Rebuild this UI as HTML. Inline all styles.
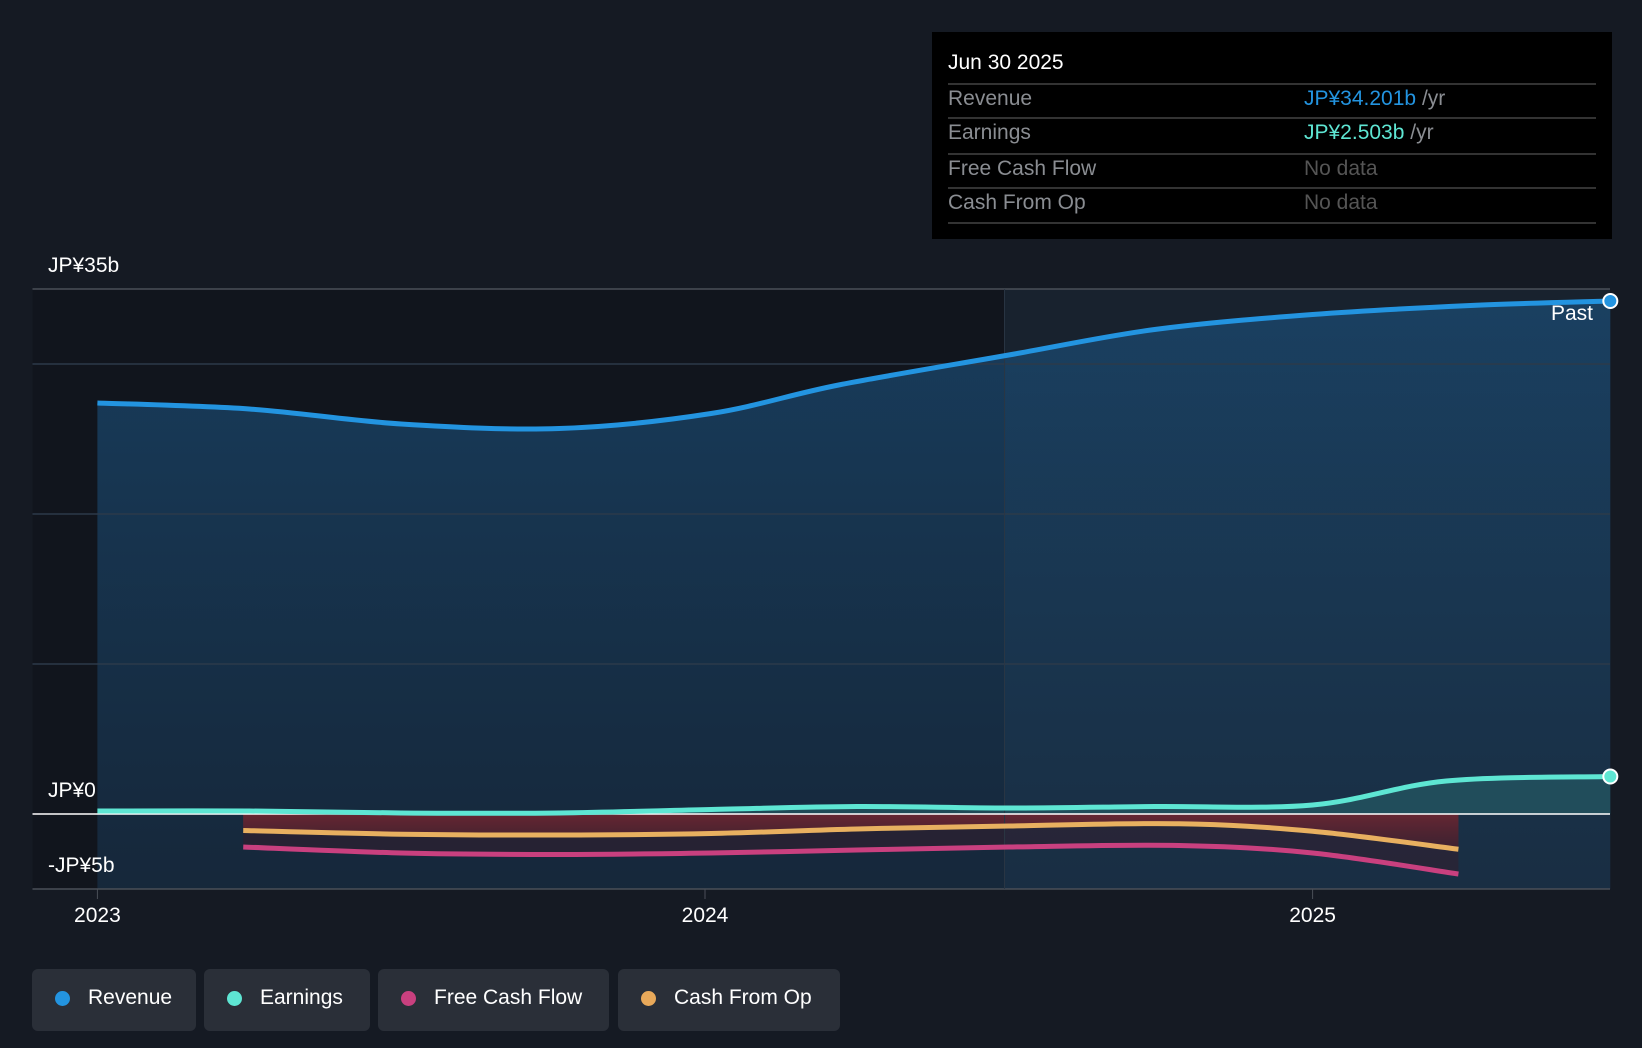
<!DOCTYPE html>
<html><head><meta charset="utf-8"><style>
body{margin:0;width:1642px;height:1048px;background:#151a23;font-family:"Liberation Sans",sans-serif;overflow:hidden;position:relative}
.tt{position:absolute;left:932px;top:32px;width:680px;height:207px;background:#000}
.tt div{position:absolute;left:16px;right:16px;font-size:21px}
.leg{position:absolute;top:969px;height:62px;background:#2a2f38;border-radius:6px;color:#fff;font-size:21px;line-height:58px;box-sizing:border-box;padding-left:56px}
.leg i{position:absolute;left:23px;top:22px;width:15px;height:15px;border-radius:50%}
</style></head><body>
<svg id="chart" width="1642" height="1048" style="position:absolute;left:0;top:0"></svg>
<div class="tt">
<div style="top:19px;color:#fff">Jun 30 2025</div>
<div style="top:51px;height:0;border-top:2px solid #333"></div>
<div style="top:55px;color:#8a8d92">Revenue<span style="position:absolute;left:356px;white-space:nowrap"><span style="color:#2394e0">JP¥34.201b</span> /yr</span></div>
<div style="top:85px;height:0;border-top:2px solid #333"></div>
<div style="top:89px;color:#8a8d92">Earnings<span style="position:absolute;left:356px;white-space:nowrap"><span style="color:#5ee6d3">JP¥2.503b</span> /yr</span></div>
<div style="top:121px;height:0;border-top:2px solid #333"></div>
<div style="top:125px;color:#8a8d92">Free Cash Flow<span style="position:absolute;left:356px;color:#555">No data</span></div>
<div style="top:155px;height:0;border-top:2px solid #333"></div>
<div style="top:159px;color:#8a8d92">Cash From Op<span style="position:absolute;left:356px;color:#555">No data</span></div>
<div style="top:190px;height:0;border-top:2px solid #333"></div>
</div>
<div class="leg" style="left:32px;width:164px"><i style="background:#2394e0"></i>Revenue</div>
<div class="leg" style="left:204px;width:166px"><i style="background:#5ee6d3"></i>Earnings</div>
<div class="leg" style="left:378px;width:231px"><i style="background:#c9407f"></i>Free Cash Flow</div>
<div class="leg" style="left:618px;width:222px"><i style="background:#e8a95a"></i>Cash From Op</div>
<script>
const revT=[2023.0,2023.25,2023.5,2023.76,2024.01,2024.22,2024.5,2024.74,2025.0,2025.26,2025.49];
const revV=[27.4,27.0,26.0,25.7,26.7,28.6,30.6,32.3,33.3,33.9,34.2];
const earnT=[2023.0,2023.25,2023.5,2023.76,2024.01,2024.25,2024.5,2024.74,2025.0,2025.22,2025.49];
const earnV=[0.2,0.2,0.07,0.07,0.3,0.5,0.4,0.5,0.6,2.2,2.5];
const cfT=[2023.24,2023.5,2023.76,2024.01,2024.25,2024.5,2024.78,2025.0,2025.24];
const fcfV=[-2.2,-2.6,-2.7,-2.6,-2.4,-2.2,-2.1,-2.6,-4.0];
const cfoV=[-1.1,-1.35,-1.4,-1.3,-1.0,-0.8,-0.65,-1.15,-2.35];
const yTicks=[35,0,-5];const yTickLabels=["JP¥35b","JP¥0","-JP¥5b"];
const grid=[35,30,20,10,-5];
const xTicks=[2023,2024,2025];
const X=t=>97.4+(t-2023)*607.6;
const Y=v=>814-v*15.0;
const L=32.5,R=1610;
const svg=document.getElementById('chart');const NS='http://www.w3.org/2000/svg';
function mk(tag,a,name){const e=document.createElementNS(NS,tag);for(const k in a)e.setAttribute(k,a[k]);


svg.appendChild(e);return e;}
function curve(ts,vs){const p=ts.map((t,i)=>[X(t),Y(vs[i])]);let d='M'+p[0][0]+','+p[0][1];
for(let i=0;i<p.length-1;i++){const p0=p[i-1]||p[i],p1=p[i],p2=p[i+1],p3=p[i+2]||p2;
d+=` C${p1[0]+(p2[0]-p0[0])/6},${p1[1]+(p2[1]-p0[1])/6} ${p2[0]-(p3[0]-p1[0])/6},${p2[1]-(p3[1]-p1[1])/6} ${p2[0]},${p2[1]}`;}return d;}
const defs=mk('defs',{},'defs');
defs.innerHTML='<linearGradient id="rg" x1="0" y1="0" x2="0" y2="1"><stop offset="0" stop-color="#1a4a72" stop-opacity="0.75"/><stop offset="1" stop-color="#1a3a58" stop-opacity="0.5"/></linearGradient><linearGradient id="cg" x1="0" y1="0" x2="0" y2="1"><stop offset="0" stop-color="#a8323a" stop-opacity="0.8"/><stop offset="1" stop-color="#5a2430" stop-opacity="0.6"/></linearGradient>';
const div=X(2024.493);
mk('rect',{x:L,y:Y(35),width:div-L,height:Y(-5)-Y(35),fill:'#11151d'},'past-shade');
mk('rect',{x:div,y:Y(35),width:R-div,height:Y(-5)-Y(35),fill:'#18222e'},'recent-shade');
const rc=curve(revT,revV);
mk('path',{d:rc+` L${X(revT[revT.length-1])},${Y(-5)} L${X(revT[0])},${Y(-5)} Z`,fill:'url(#rg)'},'revenue-area');
const ec=curve(earnT,earnV);
mk('path',{d:ec+` L${X(earnT[earnT.length-1])},${Y(0)} L${X(earnT[0])},${Y(0)} Z`,fill:'#2a6a70',opacity:0.5},'earnings-area');
const cc=curve(cfT,cfoV);
mk('path',{d:cc+` L${X(cfT[cfT.length-1])},${Y(0)} L${X(cfT[0])},${Y(0)} Z`,fill:'url(#cg)'},'cfo-area');
const fc=curve(cfT,fcfV);
mk('path',{d:fc+` L${X(cfT[cfT.length-1])},${Y(0)} L${X(cfT[0])},${Y(0)} Z`,fill:'#3a1a28',opacity:0.45},'fcf-area');
grid.forEach(g=>mk('line',{x1:L,x2:R,y1:Y(g),y2:Y(g),stroke:g==35||g==-5?'#4a4f58':'#2c3a4a','stroke-width':1.5},'gridline'));
mk('line',{x1:div,x2:div,y1:Y(35),y2:Y(-5),stroke:'#2a3644','stroke-width':1},'divider');
mk('line',{x1:L,x2:R,y1:Y(0),y2:Y(0),stroke:'#fff','stroke-width':1.5},'zero-line');
mk('path',{d:rc,fill:'none',stroke:'#2394e0','stroke-width':5},'revenue-line');
mk('path',{d:ec,fill:'none',stroke:'#5ee6d3','stroke-width':5},'earnings-line');
mk('path',{d:cc,fill:'none',stroke:'#e8b060','stroke-width':5},'cfo-line');
mk('path',{d:fc,fill:'none',stroke:'#c9407f','stroke-width':5},'fcf-line');
mk('circle',{cx:X(revT[revT.length-1]),cy:Y(revV[revV.length-1]),r:7,fill:'#2394e0',stroke:'#fff','stroke-width':2},'revenue-end-dot');
mk('circle',{cx:X(earnT[earnT.length-1]),cy:Y(earnV[earnV.length-1]),r:7,fill:'#5ee6d3',stroke:'#fff','stroke-width':2},'earnings-end-dot');
yTicks.forEach((v,i)=>{const t=mk('text',{x:48,y:Y(v)-17,fill:'#fff','font-size':21,'font-family':'Liberation Sans'},'y-tick-label');t.textContent=yTickLabels[i];});
xTicks.forEach(v=>{mk('line',{x1:X(v),x2:X(v),y1:Y(-5),y2:Y(-5)+10,stroke:'#4a4f58'},'x-tick');
const t=mk('text',{x:X(v),y:922,fill:'#fff','font-size':21,'text-anchor':'middle','font-family':'Liberation Sans'},'x-tick-label');t.textContent=v;});
const p=mk('text',{x:1593,y:320,fill:'#fff','font-size':21,'text-anchor':'end','font-family':'Liberation Sans'},'past-label');p.textContent='Past';
</script>
</body></html>
